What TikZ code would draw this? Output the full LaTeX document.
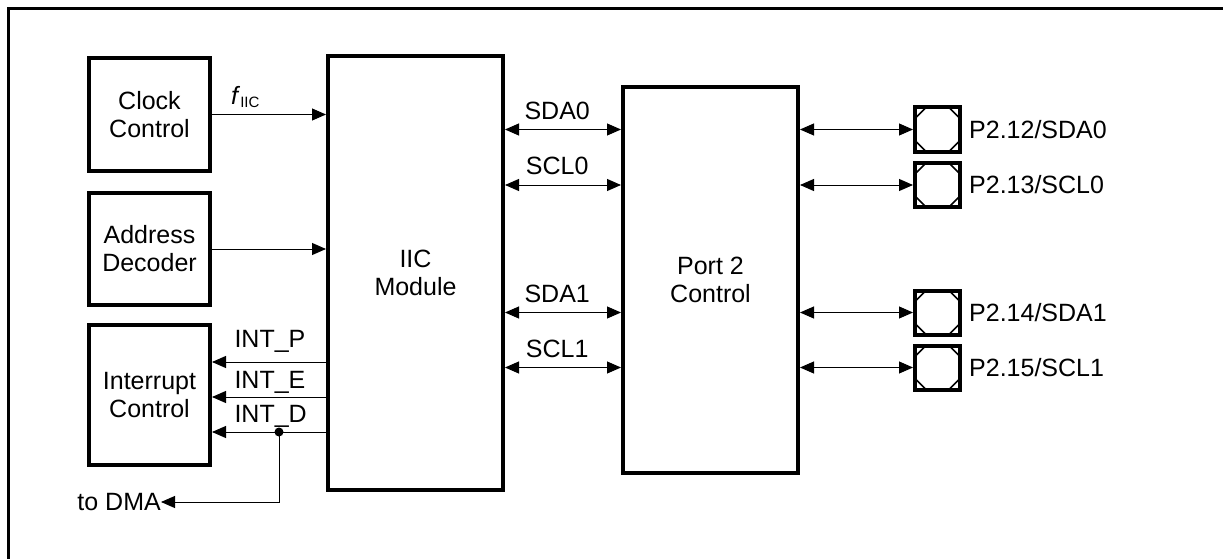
\documentclass[tikz,border=0pt]{standalone}
\usepackage{fontspec}
\setmainfont{Liberation Sans}
\usetikzlibrary{arrows.meta,positioning}

\begin{document}
\begin{tikzpicture}[x=1pt,y=-1pt,font=\fontsize{25}{28}\selectfont,
  blk/.style={draw,line width=4pt,align=center,inner sep=0pt},
  pin/.style={draw,line width=4pt,minimum width=45pt,minimum height=44pt,inner sep=0pt,
    path picture={
      \draw[line width=1.5pt] ([yshift=-11pt]path picture bounding box.north west) -- ([xshift=11pt]path picture bounding box.north west);
      \draw[line width=1.5pt] ([yshift=-11pt]path picture bounding box.north east) -- ([xshift=-11pt]path picture bounding box.north east);
      \draw[line width=1.5pt] ([yshift=11pt]path picture bounding box.south west) -- ([xshift=11pt]path picture bounding box.south west);
      \draw[line width=1.5pt] ([yshift=11pt]path picture bounding box.south east) -- ([xshift=-11pt]path picture bounding box.south east);}},
  sig/.style={line width=1pt,-{Triangle[length=14pt,width=12pt]}},
  bus/.style={line width=1pt,{Triangle[length=14pt,width=12pt]}-{Triangle[length=14pt,width=12pt]}},
  lbl/.style={anchor=base,inner sep=0pt,yshift=10pt}]
\useasboundingbox (0,0) rectangle (1223,559);
\draw[line width=3pt] (1223,9) -- (8,9) -- (8,559);

% blocks
\node[blk,minimum width=121pt,minimum height=113pt] (clk) at (149.5,114.5) {Clock\\Control};
\node[blk,minimum width=121pt,minimum height=112pt] (addr) at (149.5,249) {Address\\Decoder};
\node[blk,minimum width=121pt,minimum height=140pt] (intc) at (149.5,395) {Interrupt\\Control};
\node[blk,minimum width=175pt,minimum height=434pt] (iic) at (415.5,273) {IIC\\Module};
\node[blk,minimum width=175pt,minimum height=386pt] (port) at (710.5,280) {Port 2\\Control};

% pins
\node[pin] (p12) at (937.5,129.5) {};
\node[pin] (p13) at (937.5,185) {};
\node[pin] (p14) at (937.5,312.5) {};
\node[pin] (p15) at (937.5,367.5) {};
\node[inner sep=0pt,right=7pt of p12] (l12) {P2.12/SDA0};
\node[inner sep=0pt,right=7pt of p13] (l13) {P2.13/SCL0};
\node[inner sep=0pt,right=7pt of p14] (l14) {P2.14/SDA1};
\node[inner sep=0pt,right=7pt of p15] (l15) {P2.15/SCL1};

% clock and address
\draw[sig] (clk.east) -- (clk.east -| iic.west);
\node[anchor=base west,inner sep=0pt] (fiic) at (231,105) {\textit{f}\raisebox{-3pt}{\fontsize{15}{15}\selectfont IIC}};
\draw[sig] (addr.east) -- (addr.east -| iic.west);

% IIC <-> port 2 <-> pins
\draw[bus] (iic.east |- p12) -- node[lbl,pos=0.45] {SDA0} (port.west |- p12);
\draw[bus] (iic.east |- p13) -- node[lbl,pos=0.45] {SCL0} (port.west |- p13);
\draw[bus] (iic.east |- p14) -- node[lbl,pos=0.45] {SDA1} (port.west |- p14);
\draw[bus] (iic.east |- p15) -- node[lbl,pos=0.45] {SCL1} (port.west |- p15);
\draw[bus] (port.east |- p12) -- (p12);
\draw[bus] (port.east |- p13) -- (p13);
\draw[bus] (port.east |- p14) -- (p14);
\draw[bus] (port.east |- p15) -- (p15);

% interrupts
\draw[sig] (iic.west |- 0,362) -- (intc.east |- 0,362) node[lbl,anchor=base west,xshift=22pt,yshift=5pt] {INT\_P};
\draw[sig] (iic.west |- 0,397) -- (intc.east |- 0,397) node[lbl,anchor=base west,xshift=22pt,yshift=-1pt] {INT\_E};
\draw[sig] (iic.west |- 0,432) -- (intc.east |- 0,432) node[lbl,anchor=base west,xshift=22pt] {INT\_D};
\node[anchor=east,inner sep=0pt] (dma) at (161,502) {to DMA};
\coordinate (tap) at (279,432);
\fill (tap) circle (4.5pt);
\draw[sig] (tap) |- (dma.east);
\end{tikzpicture}
\end{document}
